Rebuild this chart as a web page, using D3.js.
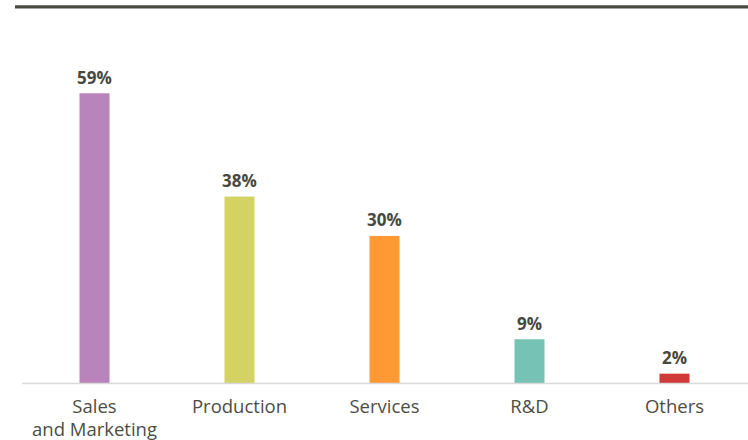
<!DOCTYPE html>
<html>
<head>
<meta charset="utf-8">
<script src="https://cdn.jsdelivr.net/npm/d3@7"></script>
<style>
  html, body { margin: 0; padding: 0; background: #fff; }
  svg { display: block; }
</style>
</head>
<body>
<svg id="chart" width="748" height="440"></svg>
<script>
// Share of respondents by function
const categories = [["Sales", "and Marketing"], ["Production"], ["Services"], ["R&D"], ["Others"]];
const values = [59, 38, 30, 9, 2];
const colors = ["#b983bb", "#d4d263", "#ff9933", "#76c2b5", "#d13838"];

const W = 748, H = 440;
const baseY = 383.5;
const svg = d3.select("#chart");

const x = d3.scaleBand()
  .domain(d3.range(categories.length))
  .range([22, 747])
  .paddingInner(0.793)
  .paddingOuter(0.3965);

const y = d3.scaleLinear()
  .domain([0, 59])
  .range([baseY, 93.3]);

// Heavy rule across the top
svg.append("line")
  .attr("x1", 15).attr("x2", W)
  .attr("y1", 6.8).attr("y2", 6.8)
  .attr("stroke", "#4a4a40")
  .attr("stroke-width", 3.2);

// Bars
svg.selectAll("rect.bar")
  .data(values)
  .join("rect")
  .attr("class", "bar")
  .attr("x", (d, i) => x(i))
  .attr("width", x.bandwidth())
  .attr("y", d => y(d))
  .attr("height", d => baseY - y(d))
  .attr("fill", (d, i) => colors[i]);

// Baseline
svg.append("line")
  .attr("x1", 22).attr("x2", W)
  .attr("y1", baseY).attr("y2", baseY)
  .attr("stroke", "#d9d9d9")
  .attr("stroke-width", 1.5);

// Value labels
svg.selectAll("text.val")
  .data(values)
  .join("text")
  .attr("class", "val")
  .attr("x", (d, i) => x(i) + x.bandwidth() / 2)
  .attr("y", d => y(d) - 9.5)
  .attr("text-anchor", "middle")
  .attr("font-family", "'Open Sans', sans-serif")
  .attr("font-weight", "bold")
  .attr("font-size", 17)
  .attr("fill", "#48483f")
  .text(d => d + "%");

// Category labels
const cat = svg.selectAll("text.cat")
  .data(categories)
  .join("text")
  .attr("class", "cat")
  .attr("x", (d, i) => x(i) + x.bandwidth() / 2)
  .attr("y", 413)
  .attr("text-anchor", "middle")
  .attr("font-family", "'Open Sans', sans-serif")
  .attr("font-size", 18.5)
  .attr("fill", "#4d4d45");

cat.selectAll("tspan")
  .data((d, i) => d.map(t => ({ t, i })))
  .join("tspan")
  .attr("x", d => x(d.i) + x.bandwidth() / 2)
  .attr("dy", (d, j) => j === 0 ? 0 : 22.5)
  .text(d => d.t);
</script>
</body>
</html>
